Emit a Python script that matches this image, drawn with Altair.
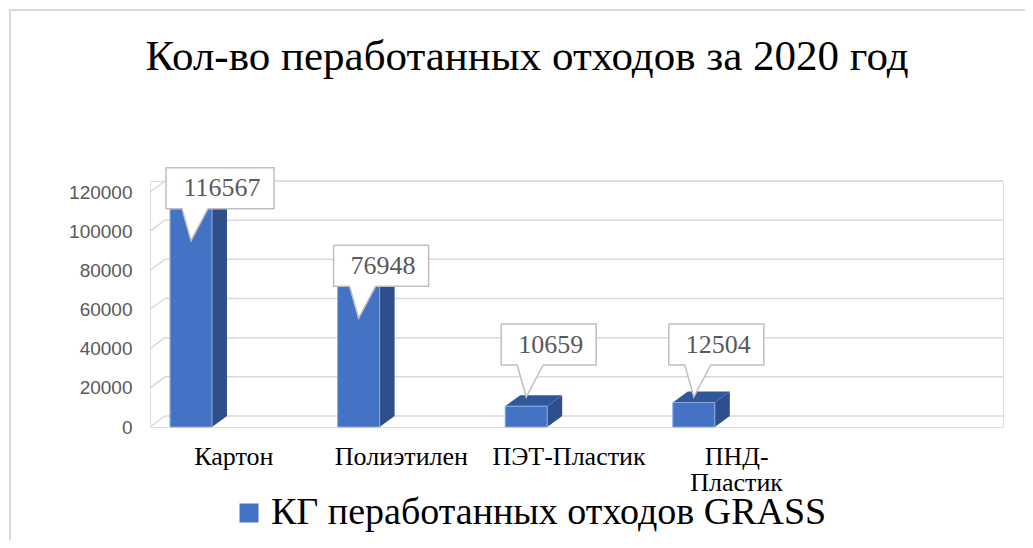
import altair as alt
import pandas as pd

# ---------------- data ----------------
categories = ["Картон", "Полиэтилен", "ПЭТ-Пластик", "ПНД-Пластик"]
axis_labels = ["Картон", "Полиэтилен", "ПЭТ-Пластик", "ПНД-\nПластик"]
values = [116567, 76948, 10659, 12504]
y_ticks = [0, 20000, 40000, 60000, 80000, 100000, 120000]
series_name = "КГ " + "пера" + "ботанных отходов GRASS"
title_text = "Кол-во " + "пера" + "ботанных отходов за 2020 год"

# ---------------- layout / style constants (pixels) ----------------
PLOT_W, PLOT_H = 853, 246
N_SLOTS = 5
DEPTH_X, DEPTH_Y = 15, 11          # 3-D depth offset of the back wall
SLOT_PX = (PLOT_W - DEPTH_X) / N_SLOTS
X_MAX = PLOT_W / SLOT_PX
Y_MAX = y_ticks[-1] * PLOT_H / (PLOT_H - DEPTH_Y)
BAR_OFF, BAR_W = 20, 42
BLUE, SIDE, TOP = "#4472C4", "#2F4F8C", "#30579A"
GRID = "#D9D9D9"
LABEL_BORDER = "#BFBFBF"


def px_x(p):
    return p / SLOT_PX


def px_y(p):
    return p * Y_MAX / PLOT_H


dxu, dyu = px_x(DEPTH_X), px_y(DEPTH_Y)

front, side, top, fill_pts, outline, texts, cats = [], [], [], [], [], [], []
for i, (cat, v) in enumerate(zip(categories, values)):
    xl = i + px_x(BAR_OFF)
    xr = xl + px_x(BAR_W)
    front.append(dict(cat=cat, series=series_name, xl=xl, xr=xr, v=v, base=0))
    side += [dict(cat=cat, x=xr, hi=v, lo=0),
             dict(cat=cat, x=xr + dxu, hi=v + dyu, lo=dyu)]
    top += [dict(cat=cat, x=xl, hi=v, lo=v),
            dict(cat=cat, x=xl + dxu, hi=v + dyu, lo=v),
            dict(cat=cat, x=xr, hi=v + dyu, lo=v),
            dict(cat=cat, x=xr + dxu, hi=v + dyu, lo=v + dyu)]
    txt = str(v)
    wpx = 30 + 13 * len(txt)
    bl = xl - px_x(4)
    br = bl + px_x(wpx)
    bot = max(v - px_y(10), px_y(62))
    tp = bot + px_y(41)
    tip = bot - px_y(32)
    pl, pt, pr = bl + px_x(16), bl + px_x(25), bl + px_x(42)
    for xx, lo in [(bl, bot), (pl, bot), (pt, tip), (pr, bot), (br, bot)]:
        fill_pts.append(dict(cat=cat, x=xx, hi=tp, lo=lo))
    for k, (xx, yy) in enumerate([(bl, tp), (br, tp), (br, bot), (pr, bot), (pt, tip),
                                  (pl, bot), (bl, bot), (bl, tp)]):
        outline.append(dict(cat=cat, k=k, x=xx, y=yy))
    texts.append(dict(cat=cat, x=(bl + br) / 2 + px_x(2), y=bot + px_y(20.5), t=txt))
    cats.append(dict(x=i + 0.5, t=axis_labels[i]))

grid_rows = [dict(g=g, y=g + dyu, x0=0.0, x1=dxu, x2=X_MAX, y0=g) for g in y_ticks]

xs = alt.Scale(domain=[0, X_MAX], nice=False, zero=False)
ys = alt.Scale(domain=[0, Y_MAX], nice=False, zero=False)
y_axis = alt.Axis(values=y_ticks, format="d", title=None, grid=False, domain=False,
                  ticks=False, labelPadding=18, labelFont="Liberation Sans",
                  labelFontSize=19, labelColor="#595959")


def X(f):
    return alt.X(f, type="quantitative", scale=xs, axis=None)


def Y(f):
    return alt.Y(f, type="quantitative", scale=ys, axis=y_axis, stack=None)


gdf = pd.DataFrame(grid_rows)

frame_top = alt.Chart(gdf).mark_rule(color=GRID, strokeWidth=1.5).encode(
    x=alt.value(-141), x2=alt.value(875), y=alt.value(-171))
frame_left = alt.Chart(gdf).mark_rule(color=GRID, strokeWidth=1.5).encode(
    x=alt.value(-140), y=alt.value(-171), y2=alt.value(360))

grid = alt.Chart(gdf).mark_rule(color=GRID, strokeWidth=1.5).encode(
    x=X("x1"), x2="x2", y=Y("y"))
diag = alt.Chart(gdf).mark_rule(color=GRID, strokeWidth=1.5).encode(
    x=X("x0"), x2="x1", y=Y("y0"), y2="y")

side_l = alt.Chart(pd.DataFrame(side)).mark_area(color=SIDE, interpolate="linear").encode(
    x=X("x"), y=Y("hi"), y2="lo", detail="cat:N")
top_l = alt.Chart(pd.DataFrame(top)).mark_area(color=TOP, interpolate="linear").encode(
    x=X("x"), y=Y("hi"), y2="lo", detail="cat:N")

front_l = alt.Chart(pd.DataFrame(front)).mark_rect(stroke="#8FAADC", strokeWidth=1).encode(
    x=X("xl"), x2="xr",
    y=Y("v"),
    y2="base",
    color=alt.Color("series:N", scale=alt.Scale(range=[BLUE]),
                    legend=alt.Legend(orient="none", legendX=80, legendY=313, title=None,
                                      symbolType="square", symbolSize=361,
                                      symbolStrokeWidth=0, labelFont="Liberation Serif",
                                      labelFontSize=38, labelColor="#000000",
                                      labelOffset=3, padding=0, labelLimit=900)),
)

call_fill = alt.Chart(pd.DataFrame(fill_pts)).mark_area(
    color="white", opacity=1, interpolate="linear").encode(
    x=X("x"), y=Y("hi"), y2="lo", detail="cat:N")
call_line = alt.Chart(pd.DataFrame(outline)).mark_line(
    color=LABEL_BORDER, strokeWidth=1.5, interpolate="linear").encode(
    x=X("x"), y=Y("y"), detail="cat:N", order="k:Q")

text_l = alt.Chart(pd.DataFrame(texts)).mark_text(
    font="Liberation Serif", fontSize=26, color="#595959", baseline="middle", align="center"
).encode(x=X("x"), y=Y("y"), text="t:N")

cat_l = alt.Chart(pd.DataFrame(cats)).mark_text(
    font="Liberation Serif", fontSize=26, color="#000000", baseline="alphabetic",
    align="center", lineBreak="\n", lineHeight=26
).encode(x=X("x"), y=alt.value(284), text="t:N")

title_l = alt.Chart(pd.DataFrame({"t": [title_text]})).mark_text(
    font="Liberation Serif", fontSize=43, color="#000000", baseline="alphabetic",
    align="center"
).encode(x=alt.value(377), y=alt.value(-111), text="t:N")

chart = alt.layer(
    frame_top, frame_left, grid, diag, side_l, top_l, front_l,
    call_fill, call_line, text_l, cat_l, title_l
).properties(
    width=PLOT_W, height=PLOT_H,
    autosize=alt.AutoSizeParams(type="none"),
    padding={"left": 142, "top": 173, "right": 22, "bottom": 113},
).configure_view(stroke=None).configure(background="white")

chart.save("out.html", embed_options={"renderer": "svg", "actions": False})
